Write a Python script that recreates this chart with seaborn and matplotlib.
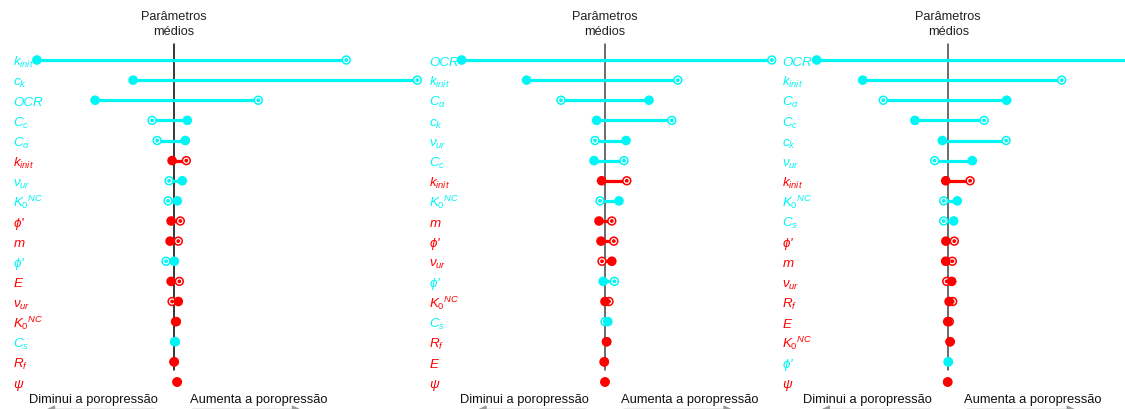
import numpy as np
import pandas as pd
import matplotlib
matplotlib.use('Agg')
import matplotlib.pyplot as plt
import matplotlib.transforms as mtransforms
import seaborn as sns

# nomes dos parametros (mathtext)
LBL = {
    'kinit': r'$k_{init}$', 'ck': r'$c_k$', 'OCR': 'OCR', 'Cc': r'$C_c$',
    'Ca': r'$C_\alpha$', 'nur': r'$\nu_{ur}$', 'K0NC': r'$K_0{}^{NC}$',
    'phi': r"$\phi$'", 'm': r'$m$', 'E': r'$E$', 'Rf': r'$R_f$',
    'Cs': r'$C_s$', 'psi': r'$\psi$',
}

# painel 1
p1_par = ['kinit', 'ck', 'OCR', 'Cc', 'Ca', 'kinit', 'nur', 'K0NC', 'phi', 'm',
          'phi', 'E', 'nur', 'K0NC', 'Cs', 'Rf', 'psi']
p1_grp = ['argila', 'argila', 'argila', 'argila', 'argila', 'areia', 'argila', 'argila',
          'areia', 'areia', 'argila', 'areia', 'areia', 'areia', 'argila', 'areia', 'areia']
p1_min = [-68.3, -20.2, -39.2, 6.9, 5.9, -0.7, 4.4, 1.9, -1.2, -1.7, 0.4, -1.2, 2.4, 1.4, 0.9, 0.4, 1.9]
p1_max = [86.4, 121.9, 42.4, -10.7, -8.2, 6.4, -2.2, -2.7, 3.4, 2.4, -3.7, 2.9, -0.7, 1.0, 0.5, 0.2, 1.7]

# painel 2
p2_par = ['OCR', 'kinit', 'Ca', 'ck', 'nur', 'Cc', 'kinit', 'K0NC', 'm', 'phi',
          'nur', 'phi', 'K0NC', 'Cs', 'Rf', 'E', 'psi']
p2_grp = ['argila', 'argila', 'argila', 'argila', 'argila', 'argila', 'areia', 'argila',
          'areia', 'areia', 'areia', 'argila', 'areia', 'argila', 'areia', 'areia', 'areia']
p2_min = [-71.7, -39.2, 22.0, -4.2, 10.5, -5.5, -1.7, 7.0, -3.0, -2.0, 3.4, -0.9, 0.0, 1.4, 0.9, -0.4, 0.0]
p2_max = [83.4, 36.4, -22.0, 33.4, -5.0, 9.5, 10.9, -2.5, 3.4, 4.4, -1.5, 4.7, 2.0, 0.0, 0.7, -0.3, 0.0]

# painel 3
p3_par = ['OCR', 'kinit', 'Ca', 'Cc', 'ck', 'nur', 'kinit', 'K0NC', 'Cs', 'phi',
          'm', 'nur', 'Rf', 'E', 'K0NC', 'phi', 'psi']
p3_grp = ['argila', 'argila', 'argila', 'argila', 'argila', 'argila', 'areia', 'argila',
          'argila', 'areia', 'areia', 'areia', 'areia', 'areia', 'areia', 'argila', 'areia']
p3_min = [-65.8, -42.8, 29.2, -16.7, -3.0, 12.0, -1.3, 4.5, 2.7, -1.2, -1.3, 1.7, 0.4, -0.3, 0.9, 0.0, -0.3]
p3_max = [95.9, 56.7, -32.5, 17.9, 28.9, -6.8, 10.9, -2.3, -2.3, 3.0, 2.0, -0.8, 2.2, 0.5, 0.9, 0.0, -0.3]

cores = {'argila': '#00F5F5', 'areia': '#FF0000'}

sns.set_theme(style='white')
plt.rcParams['font.family'] = ['Liberation Sans', 'DejaVu Sans']
plt.rcParams['mathtext.fontset'] = 'custom'
plt.rcParams['mathtext.it'] = 'Liberation Sans:italic'
plt.rcParams['mathtext.rm'] = 'Liberation Sans'
plt.rcParams['mathtext.cal'] = 'Liberation Sans:italic'

W, H = 1125, 410
fig = plt.figure(figsize=(W / 100, H / 100), dpi=100)

# (esquerda, direita, centro, x do rotulo, cor da linha central) em pixels
paineis = [
    (p1_par, p1_grp, p1_min, p1_max, 0, 425, 173.5, 13, '#000000'),
    (p2_par, p2_grp, p2_min, p2_max, 425, 775, 605, 429, '#444444'),
    (p3_par, p3_grp, p3_min, p3_max, 775, 1125, 948.3, 782, '#444444'),
]
k = 2.0  # px por unidade
y0, dy = 61, 20.125
top_px = y0 - dy / 2
bot_px = y0 + 16 * dy + dy / 2

for par, grp, vmin, vmax, L, R, C, lx, lc in paineis:
    ax = fig.add_axes([L / W, 1 - bot_px / H, (R - L) / W, (bot_px - top_px) / H])
    df = pd.DataFrame({'par': par, 'grupo': grp, 'min': vmin, 'max': vmax})
    df['linha'] = np.arange(len(df))
    cols = df['grupo'].map(cores).tolist()

    ax.hlines(df['linha'], df['min'], df['max'], colors=cols, lw=2.3, clip_on=False, zorder=2)
    ax.scatter(df['max'], df['linha'], s=32, facecolors='white', edgecolors=cols,
               linewidths=1.1, clip_on=False, zorder=3)
    ax.scatter(df['max'], df['linha'], s=3, c=cols, clip_on=False, zorder=4)
    sns.scatterplot(data=df, x='min', y='linha', hue='grupo', palette=cores, s=48,
                    linewidth=0, legend=False, ax=ax, clip_on=False, zorder=5)

    ax.set_xlim((L - C) / k, (R - C) / k)
    ax.set_ylim(16.5, -0.5)
    ax.axis('off')

    h = bot_px - top_px
    ax.axvline(0, ymin=(bot_px - 371) / h, ymax=(bot_px - 45) / h, color=lc,
               lw=1.1, clip_on=False, zorder=1)

    tr_lbl = mtransforms.blended_transform_factory(fig.transFigure, ax.transData)
    for i, (p, g) in enumerate(zip(par, grp)):
        ax.text(lx / W, i + 0.25, LBL[p], transform=tr_lbl, color=cores[g],
                fontsize=9.6, style='italic', ha='left', va='baseline')

    tr = mtransforms.blended_transform_factory(ax.transData, fig.transFigure)
    ax.text(0, 1 - 11 / H, 'Parâmetros\nmédios', transform=tr, ha='center', va='top',
            fontsize=9.2, color='#222222', linespacing=1.35)
    ax.text(-16 / k, 1 - 403 / H, 'Diminui a poropressão', transform=tr, ha='right',
            va='baseline', fontsize=9.3, color='#111111')
    ax.text(16 / k, 1 - 403 / H, 'Aumenta a poropressão', transform=tr, ha='left',
            va='baseline', fontsize=9.3, color='#111111')
    ya = 1 - 410.5 / H
    ax.annotate('', xy=(-130 / k, ya), xytext=(-16 / k, ya), xycoords=tr, textcoords=tr,
                arrowprops=dict(arrowstyle='-|>', color='#999999', lw=1.0,
                                mutation_scale=12), annotation_clip=False)
    ax.annotate('', xy=(130 / k, ya), xytext=(16 / k, ya), xycoords=tr, textcoords=tr,
                arrowprops=dict(arrowstyle='-|>', color='#999999', lw=1.0,
                                mutation_scale=12), annotation_clip=False)

fig.savefig('out.png', dpi=100)
